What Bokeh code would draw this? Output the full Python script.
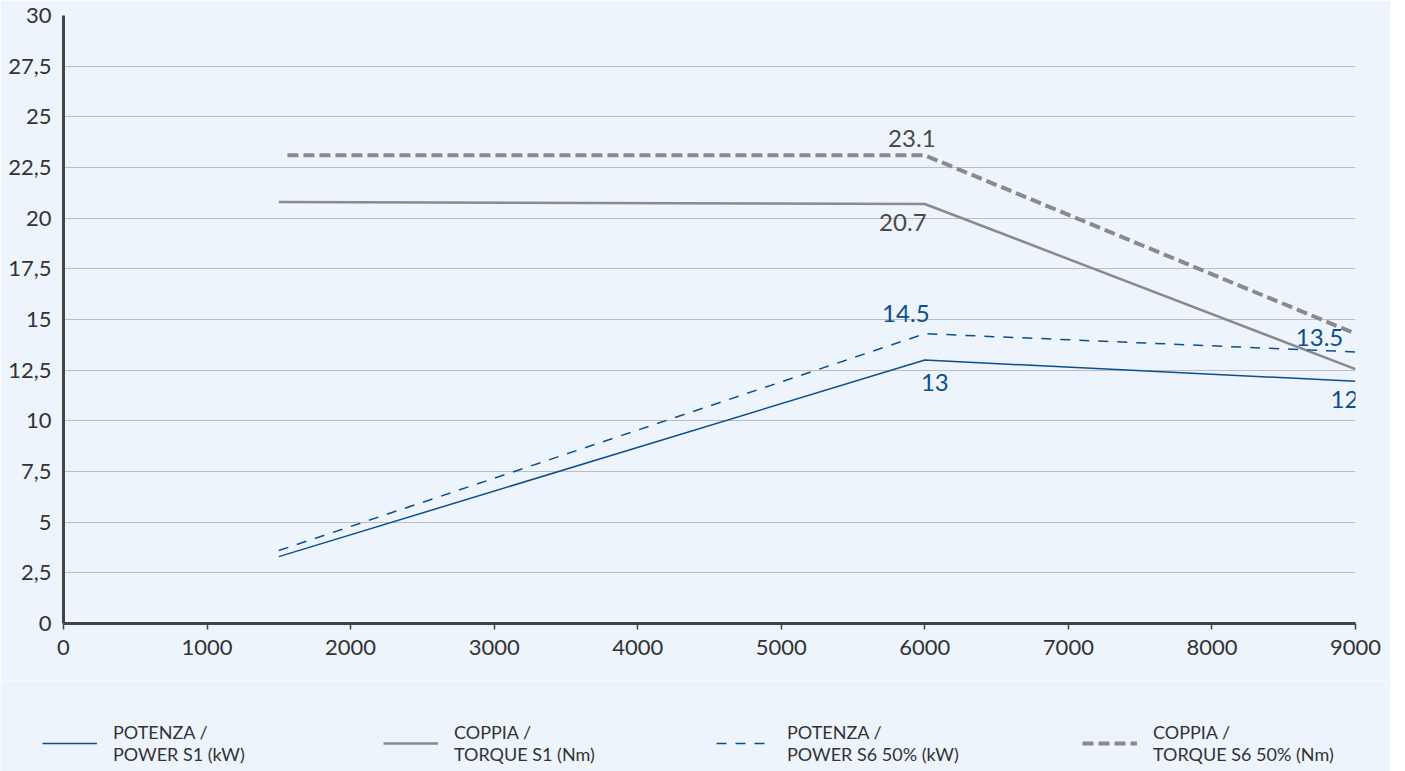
from bokeh.plotting import figure
from bokeh.models import ColumnDataSource, Range1d, FixedTicker, Legend, LegendItem
from bokeh.layouts import column, row
from bokeh.core.properties import value
from bokeh.embed import file_html
from bokeh.resources import INLINE

# ---- data ----
rpm = [1500, 6000, 9000]
power_s1 = [3.3, 13.0, 11.95]
power_s6 = [3.6, 14.3, 13.4]
torque_s1 = [20.8, 20.7, 12.55]
torque_s6_rpm = [1560, 6000, 9000]
torque_s6 = [23.1, 23.1, 14.3]

label_x = [6000, 6000, 6000, 6000, 9000, 9000]
label_y = [23.1, 20.7, 14.3, 13.0, 13.4, 11.95]
label_text = ["23.1", "20.7", "14.5", "13", "13.5", "12"]

y_ticks = [0, 2.5, 5, 7.5, 10, 12.5, 15, 17.5, 20, 22.5, 25, 27.5, 30]
y_tick_labels = ["0", "2,5", "5", "7,5", "10", "12,5", "15", "17,5", "20", "22,5", "25", "27,5", "30"]
x_ticks = [0, 1000, 2000, 3000, 4000, 5000, 6000, 7000, 8000, 9000]

legend_lines = ["POTENZA /\nPOWER S1 (kW)", "COPPIA /\nTORQUE S1 (Nm)",
                "POTENZA /\nPOWER S6 50% (kW)", "COPPIA /\nTORQUE S6 50% (Nm)"]

BG = "#edf4fb"
BLUE = "#0b4f8c"
GRAY = "#8a8a8a"
FONT = "Lato"

styles = [dict(line_color=BLUE, line_width=1.5),
          dict(line_color=GRAY, line_width=2.5),
          dict(line_color=BLUE, line_width=1.5, line_dash="10 9"),
          dict(line_color=GRAY, line_width=4, line_dash="11 5")]

p = figure(width=1390, height=680, output_backend="svg", toolbar_location=None,
           x_range=Range1d(0, 9000), y_range=Range1d(0, 30),
           min_border_left=63, min_border_right=35, min_border_top=15, min_border_bottom=57)
p.background_fill_color = BG
p.border_fill_color = BG
p.outline_line_color = None

p.xgrid.grid_line_color = None
p.ygrid.grid_line_color = "#bdbdbd"
p.ygrid.grid_line_width = 1
p.ygrid.ticker = FixedTicker(ticks=y_ticks)

p.yaxis.ticker = FixedTicker(ticks=y_ticks)
p.yaxis.major_label_overrides = {t: l for t, l in zip(y_ticks, y_tick_labels)}
p.xaxis.ticker = FixedTicker(ticks=x_ticks)
for ax in (p.xaxis, p.yaxis):
    ax.axis_line_color = "#444444"
    ax.axis_line_width = 3
    ax.minor_tick_line_color = None
    ax.major_label_text_font = FONT
    ax.major_label_text_font_size = "22px"
    ax.major_label_text_color = "#333333"
p.yaxis.major_tick_line_color = None
p.yaxis.major_tick_out = 0
p.yaxis.major_label_standoff = 12
p.xaxis.major_tick_line_color = "#444444"
p.xaxis.major_tick_line_width = 1.5
p.xaxis.major_tick_in = 0
p.xaxis.major_tick_out = 6
p.xaxis.major_label_standoff = 10

series_x = [rpm, rpm, rpm, torque_s6_rpm]
series_y = [power_s1, torque_s1, power_s6, torque_s6]
for xs, ys, st in zip(series_x, series_y, styles):
    p.line(xs, ys, **st)

x_off = [-13, -22, -19, 10, -36, -11]
y_off = [-17, 19, -20, 22, -14, 18]
colors = ["#4a4a4a", "#4a4a4a", BLUE, BLUE, BLUE, BLUE]
src = ColumnDataSource(dict(x=label_x, y=label_y, t=label_text, xo=x_off, yo=y_off, c=colors))
p.text(x="x", y="y", text="t", x_offset="xo", y_offset="yo", text_color="c",
       source=src, text_font=value(FONT), text_font_size="24px",
       text_align="center", text_baseline="middle")

# ---- legend strip ----
lh = 91
q = figure(width=1390, height=lh, output_backend="svg", toolbar_location=None,
           x_range=Range1d(0, 1390), y_range=Range1d(0, lh),
           x_axis_location=None, y_axis_location=None,
           min_border_left=0, min_border_right=0, min_border_top=0, min_border_bottom=0)
q.background_fill_color = BG
q.border_fill_color = BG
q.outline_line_color = None
q.grid.grid_line_color = None

leg_x = [42, 383, 716, 1082]
for st, lab, lx in zip(styles, legend_lines, leg_x):
    r = q.line([-20, -10], [-20, -20], **st)  # off-screen sample carrying the style
    lg = Legend(items=[LegendItem(label=lab, renderers=[r])], location=(lx, 6),
                glyph_width=55, glyph_height=20, label_standoff=16,
                padding=0, margin=0, border_line_color=None,
                background_fill_alpha=0, label_text_font=FONT,
                label_text_font_size="18px", label_text_color="#333333",
                label_text_line_height=1.25)
    q.add_layout(lg, "center")

layout = column(p, row(q, spacing=0), spacing=0)
html = file_html(layout, INLINE)
html = html.replace("<body>", '<body style="background-color:%s;">' % BG, 1)
open("out.html", "w").write(html)
